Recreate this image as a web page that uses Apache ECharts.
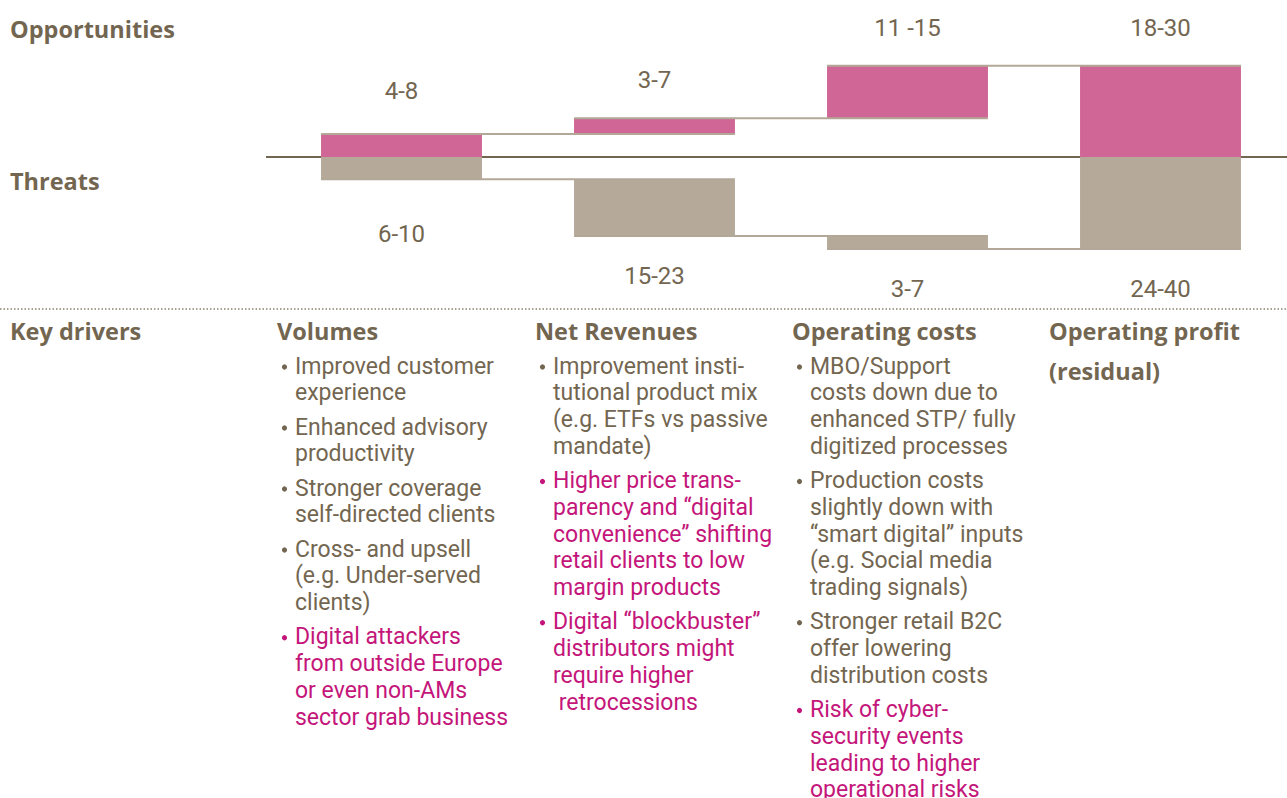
<!DOCTYPE html>
<html>
<head>
<meta charset="utf-8">
<script src="https://cdn.jsdelivr.net/npm/echarts@6/dist/echarts.min.js"></script>
<style>
html,body{margin:0;padding:0;background:#fff;}
#chart{width:1287px;height:798px;}
</style>
</head>
<body>
<div id="chart"></div>
<script>
// ---- data ----
const categories = ['Volumes', 'Net Revenues', 'Operating costs', 'Operating profit'];
const opportunityValues = [6.0, 4.1, 13.7, 23.8];   // bar heights (opportunities, upward)
const threatValues = [5.8, 14.8, 3.4, 24.0];        // bar heights (threats, downward)
const opportunityLabels = ['4-8', '3-7', '11 -15', '18-30'];
const threatLabels = ['6-10', '15-23', '3-7', '24-40'];
const rowTitles = ['Opportunities', 'Threats', 'Key drivers'];
const columnTitles = ['Volumes', 'Net Revenues', 'Operating costs', 'Operating profit\n(residual)'];

const volumesDrivers = [
  { threat: false, lines: ['Improved customer', 'experience'] },
  { threat: false, lines: ['Enhanced advisory', 'productivity'] },
  { threat: false, lines: ['Stronger coverage', 'self-directed clients'] },
  { threat: false, lines: ['Cross- and upsell', '(e.g. Under-served', 'clients)'] },
  { threat: true,  lines: ['Digital attackers', 'from outside Europe', 'or even non-AMs', 'sector grab business'] }
];
const revenueDrivers = [
  { threat: false, lines: ['Improvement insti-', 'tutional product mix', '(e.g. ETFs vs passive', 'mandate)'] },
  { threat: true,  lines: ['Higher price trans-', 'parency and \u201Cdigital', 'convenience\u201D shifting', 'retail clients to low', 'margin products'] },
  { threat: true,  lines: ['Digital \u201Cblockbuster\u201D', 'distributors might', 'require higher', ' retrocessions'] }
];
const costDrivers = [
  { threat: false, lines: ['MBO/Support', 'costs down due to', 'enhanced STP/ fully', 'digitized processes'] },
  { threat: false, lines: ['Production costs', 'slightly down with', '\u201Csmart digital\u201D inputs', '(e.g. Social media', 'trading signals)'] },
  { threat: false, lines: ['Stronger retail B2C', 'offer lowering', 'distribution costs'] },
  { threat: true,  lines: ['Risk of cyber-', 'security events', 'leading to higher', 'operational risks'] }
];
const driverColumns = [volumesDrivers, revenueDrivers, costDrivers, []];

// ---- derived waterfall bases ----
const n = categories.length;
const oppBase = [], thrBase = [];
let accO = 0, accT = 0;
for (let i = 0; i < n; i++) {
  if (i === n - 1) { oppBase.push(0); thrBase.push(0); }
  else { oppBase.push(accO); thrBase.push(-accT); accO += opportunityValues[i]; accT += threatValues[i]; }
}
const connectorData = [];
for (let i = 0; i < n - 1; i++) {
  connectorData.push([i, oppBase[i] + opportunityValues[i]]);
  connectorData.push([i, thrBase[i] - threatValues[i]]);
}

// ---- styles ----
const BROWN = '#736651';
const PINK_TXT = '#c4167a';
const PINK_BAR = '#cf6695';
const GREY_BAR = '#b5a999';
const FONT = 'Roboto, "Noto Sans", sans-serif';
const BOLD = 'bold 23.5px "Open Sans", Roboto, sans-serif';
const BODY = '23px ' + FONT;
const BAR_W = '63.6%';

// ---- text blocks (graphic) ----
const graphics = [];
const LH = 26.75, GAP = 7.5;
const colX = [277, 535, 792, 1049];
graphics.push({ type: 'text', x: 10, y: 29, style: { text: rowTitles[0], fill: BROWN, font: BOLD, verticalAlign: 'middle' } });
graphics.push({ type: 'text', x: 10, y: 181, style: { text: rowTitles[1], fill: BROWN, font: BOLD, verticalAlign: 'middle' } });
graphics.push({ type: 'text', x: 10, y: 331 - 20, style: { text: rowTitles[2], fill: BROWN, font: BOLD, verticalAlign: 'top', lineHeight: 40 } });
graphics.push({ type: 'line', shape: { x1: 0, y1: 309, x2: 1287, y2: 309 }, style: { stroke: '#8c8070', lineWidth: 1.5, lineDash: [1.5, 2] } });

columnTitles.forEach((t, c) => {
  graphics.push({ type: 'text', x: colX[c], y: 331 - 20, style: { text: t, fill: BROWN, font: BOLD, verticalAlign: 'top', lineHeight: 40 } });
  let center = 366;
  driverColumns[c].forEach(p => {
    const col = p.threat ? PINK_TXT : BROWN;
    graphics.push({ type: 'circle', shape: { cx: colX[c] + 7.5, cy: center + 1, r: 2.6 }, style: { fill: col } });
    graphics.push({ type: 'text', x: colX[c] + 18, y: center - LH / 2, style: { text: p.lines.join('\n'), fill: col, font: BODY, verticalAlign: 'top', lineHeight: LH } });
    center += p.lines.length * LH + GAP;
  });
});

const chart = echarts.init(document.getElementById('chart'), null, { renderer: 'svg' });
const labelStyle = { color: BROWN, fontSize: 24, fontFamily: FONT };

chart.setOption({
  animation: false,
  backgroundColor: '#ffffff',
  grid: { left: 275, right: 0, top: 42, bottom: 526, containLabel: false },
  xAxis: {
    type: 'category', data: categories,
    axisLine: { show: true, onZero: true, lineStyle: { color: BROWN, width: 2 } },
    axisTick: { show: false }, axisLabel: { show: false }, splitLine: { show: false }
  },
  yAxis: { type: 'value', min: -30, max: 30, show: false, splitLine: { show: false } },
  graphic: { elements: graphics },
  series: [
    { type: 'bar', stack: 'opp', data: oppBase, barWidth: BAR_W, silent: true, itemStyle: { color: 'transparent' }, emphasis: { disabled: true } },
    { type: 'bar', stack: 'opp', barWidth: BAR_W, silent: true, itemStyle: { color: PINK_BAR },
      data: opportunityValues.map((v, i) => i === 0 ? { value: v, label: { distance: 31 } } : v),
      label: Object.assign({ show: true, position: 'top', distance: 26, formatter: p => opportunityLabels[p.dataIndex] }, labelStyle) },
    { type: 'bar', stack: 'thr', data: thrBase, barWidth: BAR_W, barGap: '-100%', silent: true, itemStyle: { color: 'transparent' }, emphasis: { disabled: true } },
    { type: 'bar', stack: 'thr', barGap: '-100%', barWidth: BAR_W, silent: true, itemStyle: { color: GREY_BAR },
      data: threatValues.map((v, i) => i === 0 ? { value: -v, label: { distance: 43 } } : -v),
      label: Object.assign({ show: true, position: 'bottom', distance: 28, formatter: p => threatLabels[p.dataIndex] }, labelStyle) },
    { type: 'custom', data: connectorData, silent: true, z: 3,
      renderItem: (params, api) => {
        const i = api.value(0), v = api.value(1);
        const p1 = api.coord([i, v]);
        const p2 = api.coord([i + 1, v]);
        const half = api.size([1, 0])[0] * 0.318;
        return { type: 'line', shape: { x1: p1[0] - half, y1: p1[1], x2: p2[0] + half, y2: p2[1] }, style: { stroke: '#b3a898', lineWidth: 2 } };
      } }
  ]
});

// extend the zero line to the left edge of the driver columns
const zeroY = chart.convertToPixel({ yAxisIndex: 0 }, 0);
const gridLeft = chart.convertToPixel({ xAxisIndex: 0 }, 0) - chart.getModel().getComponent('xAxis', 0).axis.getBandWidth() / 2;
chart.setOption({ graphic: { elements: graphics.concat([{ type: 'line', shape: { x1: 266, y1: zeroY, x2: gridLeft + 1, y2: zeroY }, style: { stroke: BROWN, lineWidth: 2 } }]) } });
</script>
</body>
</html>
